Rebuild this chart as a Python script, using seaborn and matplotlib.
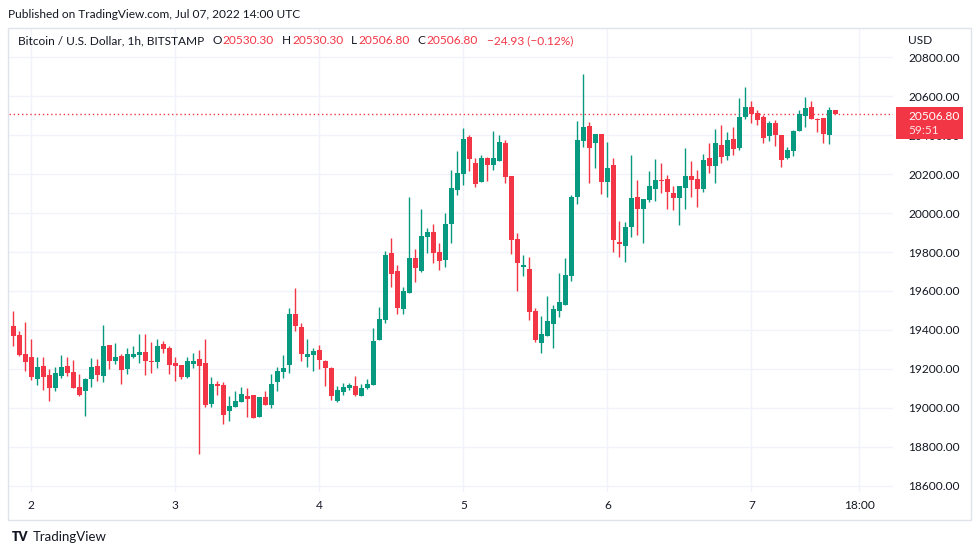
import numpy as np
import pandas as pd
import matplotlib
matplotlib.use("Agg")
import matplotlib.pyplot as plt
import seaborn as sns
from matplotlib.patches import Rectangle

# ---------------- data ----------------
start_time = "2022-07-01 21:00"
opens = [19420, 19374, 19277, 19262, 19150, 19215, 19169, 19104, 19166, 19215,
         19185, 19108, 19089, 19150, 19215, 19166, 19323, 19243, 19267, 19202,
         19263, 19274, 19287, 19241, 19238, 19328, 19308, 19231, 19221, 19161,
         19227, 19251, 19231, 19022, 19123, 19118, 18986, 19007, 19033, 19063,
         19068, 18956, 19058, 19017, 19135, 19187, 19222, 19482, 19415, 19264,
         19274, 19298, 19241, 19205, 19038, 19084, 19104, 19113, 19063, 19104,
         19120, 19351, 19453, 19795, 19703, 19510, 19592, 19769, 19704, 19879,
         19903, 19800, 19761, 19945, 20120, 20202, 20390, 20256, 20161, 20282,
         20248, 20268, 20359, 20190, 19868, 19725, 19713, 19498, 19335, 19371,
         19433, 19498, 19530, 19679, 20084, 20371, 20446, 20361, 20405, 20161,
         20246, 19851, 19833, 19930, 20082, 20022, 20069, 20125, 20169, 20174,
         20103, 20079, 20130, 20190, 20174, 20125, 20282, 20243, 20349, 20292,
         20378, 20335, 20492, 20544, 20513, 20494, 20397, 20463, 20402, 20284,
         20318, 20420, 20496, 20544, 20484, 20489, 20402, 20530.3]
highs = [19497, 19395, 19441, 19354, 19262, 19262, 19198, 19210, 19272, 19262,
         19246, 19174, 19154, 19256, 19251, 19427, 19323, 19333, 19277, 19308,
         19318, 19379, 19379, 19338, 19354, 19344, 19318, 19262, 19221, 19262,
         19282, 19297, 19354, 19159, 19139, 19133, 19063, 19087, 19108, 19103,
         19068, 19058, 19089, 19174, 19210, 19272, 19513, 19615, 19436, 19354,
         19308, 19323, 19246, 19210, 19113, 19128, 19128, 19164, 19123, 19149,
         19410, 19518, 19805, 19872, 19733, 19621, 20082, 19815, 20021, 19923,
         19944, 19846, 20000, 20220, 20318, 20436, 20400, 20282, 20297, 20287,
         20421, 20400, 20374, 20190, 19899, 19785, 19776, 19515, 19472, 19575,
         19530, 19692, 19769, 20092, 20472, 20713, 20467, 20405, 20405, 20364,
         20282, 19961, 19956, 20299, 20169, 20072, 20215, 20277, 20257, 20195,
         20139, 20139, 20333, 20267, 20221, 20303, 20359, 20431, 20451, 20417,
         20443, 20591, 20648, 20574, 20528, 20503, 20470, 20477, 20402, 20340,
         20425, 20528, 20597, 20574, 20489, 20489, 20542, 20530.3]
lows = [19320, 19268, 19191, 19144, 19120, 19094, 19038, 19089, 19154, 19166,
        19104, 19063, 18961, 19106, 19140, 19135, 19202, 19227, 19125, 19176,
        19258, 19233, 19171, 19181, 19207, 19282, 19174, 19140, 19150, 19156,
        19205, 18766, 19007, 19007, 19068, 18920, 18935, 19007, 19033, 18956,
        18951, 18956, 19015, 19002, 19089, 19156, 19181, 19397, 19243, 19212,
        19192, 19202, 19115, 19043, 19033, 19069, 19094, 19063, 19063, 19099,
        19120, 19351, 19438, 19622, 19484, 19484, 19592, 19648, 19699, 19797,
        19745, 19709, 19725, 19848, 20094, 20145, 20217, 20135, 20161, 20166,
        20222, 20268, 20156, 19792, 19602, 19679, 19453, 19340, 19284, 19371,
        19310, 19468, 19530, 19653, 20048, 20340, 20156, 20233, 20099, 20084,
        19802, 19776, 19751, 19879, 19889, 19848, 20058, 20063, 20104, 20022,
        20017, 19940, 20022, 20084, 20033, 20110, 20207, 20156, 20258, 20270,
        20300, 20323, 20480, 20460, 20450, 20361, 20371, 20344, 20238, 20275,
        20292, 20420, 20443, 20482, 20417, 20357, 20354, 20506.8]
closes = [19371, 19273, 19238, 19161, 19210, 19161, 19104, 19180, 19210, 19181,
          19104, 19068, 19149, 19210, 19171, 19318, 19243, 19262, 19197, 19277,
          19277, 19287, 19243, 19238, 19318, 19303, 19222, 19215, 19161, 19241,
          19241, 19217, 19017, 19123, 19115, 18966, 19012, 19038, 19074, 19048,
          18951, 19058, 19017, 19123, 19191, 19207, 19482, 19422, 19279, 19279,
          19292, 19248, 19207, 19063, 19093, 19108, 19118, 19069, 19103, 19123,
          19344, 19457, 19785, 19689, 19515, 19600, 19769, 19720, 19882, 19903,
          19797, 19756, 19944, 20128, 20205, 20380, 20279, 20151, 20282, 20248,
          20282, 20364, 20186, 19863, 19745, 19735, 19494, 19351, 19381, 19446,
          19508, 19544, 19682, 20082, 20374, 20441, 20335, 20405, 20161, 20231,
          19863, 19843, 19928, 20077, 20022, 20072, 20139, 20169, 20166, 20110,
          20079, 20139, 20190, 20171, 20125, 20272, 20243, 20359, 20289, 20374,
          20328, 20492, 20544, 20509, 20477, 20386, 20463, 20400, 20272, 20323,
          20420, 20509, 20540, 20482, 20479, 20407, 20528, 20506.8]

x_tick_labels = ["2", "3", "4", "5", "6", "7", "18:00"]
x_tick_times = ["2022-07-02 00:00", "2022-07-03 00:00", "2022-07-04 00:00",
                "2022-07-05 00:00", "2022-07-06 00:00", "2022-07-07 00:00",
                "2022-07-07 18:00"]
y_ticks = [18600, 18800, 19000, 19200, 19400, 19600, 19800, 20000, 20200,
           20400, 20600, 20800]
last_price = 20506.80
countdown = "59:51"
legend_title = "Bitcoin / U.S. Dollar, 1h, BITSTAMP"
legend_ohlc = [("O", "20530.30"), ("H", "20530.30"), ("L", "20506.80"), ("C", "20506.80")]
legend_change = "\u221224.93 (\u22120.12%)"

# ---------------- styling ----------------
UP = "#089981"
DOWN = "#f23645"
TXT = "#131722"
GRID = "#f0f3fa"
FS = 8.6

sns.set_theme(style="white")
plt.rcParams["font.family"] = ["Lato", "DejaVu Sans"]

W, H = 979, 555
fig = plt.figure(figsize=(W / 100, H / 100), dpi=100)
fig.patch.set_facecolor("white")


def fx(x):
    return x / W


def fy(y):
    return 1 - y / H


ax = fig.add_axes([fx(9), fy(492), fx(893) - fx(9), fy(28) - fy(492)])
ax.set_facecolor("white")

df = pd.DataFrame({"time": pd.date_range(start_time, periods=len(opens), freq="h"),
                   "open": opens, "high": highs, "low": lows, "close": closes})
t0 = df["time"].iloc[0]
df["pos"] = (df["time"] - t0) / pd.Timedelta(hours=1)
df["up"] = df["close"] >= df["open"]
df["color"] = np.where(df["up"], UP, DOWN)
df["bottom"] = df[["open", "close"]].min(axis=1)
df["height"] = (df["close"] - df["open"]).abs().clip(lower=5)

# grid
tick_pos = [(pd.Timestamp(t) - t0) / pd.Timedelta(hours=1) for t in x_tick_times]
for p in tick_pos:
    ax.axvline(p, color=GRID, lw=1, zorder=0)
for v in y_ticks:
    ax.axhline(v, color=GRID, lw=1, zorder=0)

# candles
ax.vlines(df["pos"], df["low"], df["high"], colors=df["color"], lw=1, zorder=2)
ax.bar(df["pos"], df["height"], bottom=df["bottom"], width=0.8,
       color=df["color"], linewidth=0, zorder=3)

# last price line
ax.axhline(last_price, color=DOWN, lw=1, linestyle=(0, (1, 2)), zorder=1)

ax.set_xlim(-0.717, 146.6)
ax.set_ylim(18569, 20949)
ax.set_xticks(tick_pos)
ax.set_xticklabels(x_tick_labels)
ax.set_yticks(y_ticks)
ax.set_yticklabels([f"{v:.2f}" for v in y_ticks])
ax.yaxis.tick_right()
ax.tick_params(axis="both", length=0, labelsize=FS, labelcolor=TXT)
ax.tick_params(axis="y", pad=11)
ax.tick_params(axis="x", pad=6)
for lab in ax.get_yticklabels():
    lab.set_horizontalalignment("left")
for s in ax.spines.values():
    s.set_visible(False)
ax.grid(False)

# frame
fig.patches.append(Rectangle((fx(8), fy(520)), fx(971) - fx(8), fy(28) - fy(520),
                             transform=fig.transFigure, fill=False,
                             edgecolor="#e0e3eb", lw=1, zorder=0))

# header texts
fig.text(fx(8), fy(14), "Published on TradingView.com, Jul 07, 2022 14:00 UTC",
         fontsize=FS, color=TXT, va="center", ha="left")

renderer = fig.canvas.get_renderer()


def put(x_px, s, color):
    t = fig.text(fx(x_px), fy(41), s, fontsize=FS, color=color, va="center", ha="left")
    bb = t.get_window_extent(renderer=renderer)
    return bb.x1


x = put(18, legend_title, TXT)
for letter, val in legend_ohlc:
    x = put(x + 8, letter, TXT)
    x = put(x + 1, val, DOWN)
put(x + 9, legend_change, DOWN)

fig.text(fx(908), fy(40), "USD", fontsize=FS, color=TXT, va="center", ha="left")

# price box
fig.patches.append(Rectangle((fx(896), fy(139)), fx(963) - fx(896), fy(107) - fy(139),
                             transform=fig.transFigure, facecolor=DOWN,
                             edgecolor="none", zorder=5))
fig.text(fx(908), fy(116), f"{last_price:.2f}", fontsize=FS, color="white",
         va="center", ha="left", zorder=6)
fig.text(fx(908), fy(130), countdown, fontsize=FS, color="#fde2e5",
         va="center", ha="left", zorder=6)

# footer logo
fig.text(fx(12), fy(537), "TV", fontsize=9, fontweight="heavy", color=TXT,
         va="center", ha="left")
fig.text(fx(33), fy(537), "TradingView", fontsize=9.5, color=TXT,
         va="center", ha="left")

fig.savefig("out.png", dpi=100, facecolor="white")
